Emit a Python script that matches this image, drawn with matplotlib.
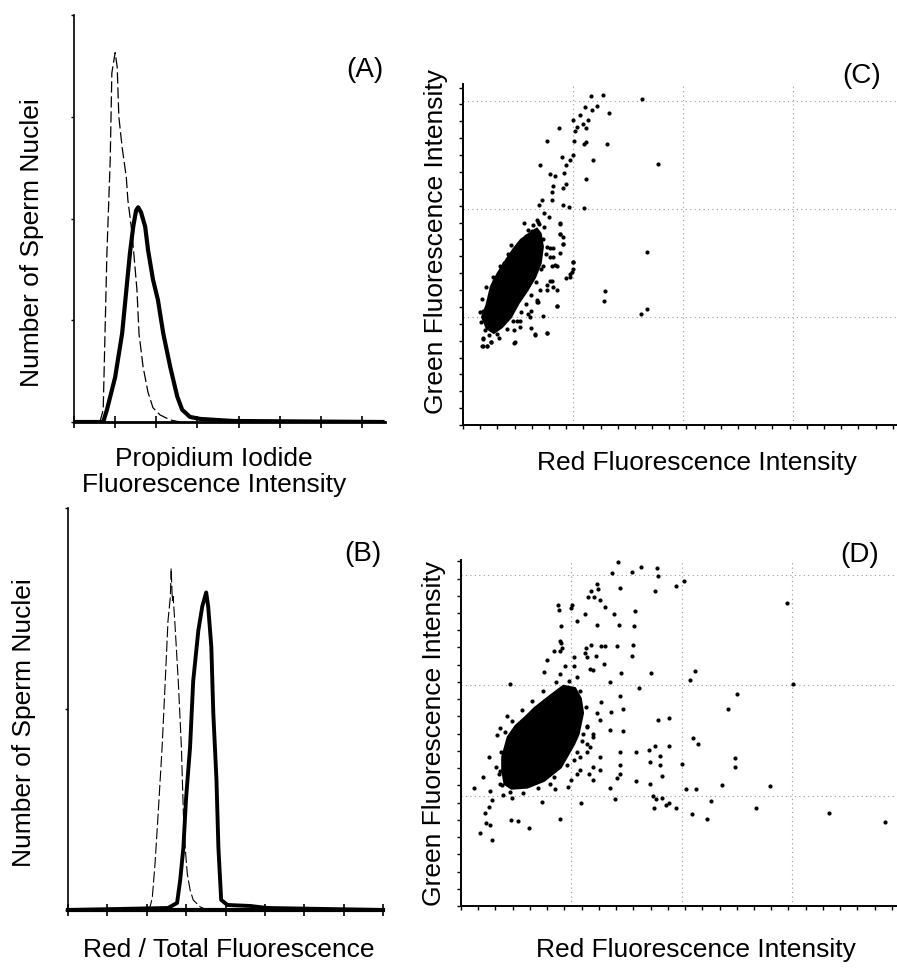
import matplotlib
matplotlib.use("Agg")
import matplotlib.pyplot as plt
import numpy as np

plt.rcParams['font.family'] = ['Liberation Sans', 'DejaVu Sans']

# ---------------- Panel A: PI fluorescence histograms ----------------
a_dash_x = [0.63, 0.71, 0.80, 0.88, 0.92, 1.00, 1.05, 1.09, 1.17, 1.27, 1.31, 1.41, 1.53, 1.58, 1.68, 1.80, 1.92, 2.09, 2.34, 2.58]
a_dash_y = [0.00, 0.12, 1.66, 2.57, 3.43, 3.63, 3.49, 3.00, 2.70, 2.41, 2.18, 1.86, 1.30, 0.87, 0.54, 0.29, 0.14, 0.07, 0.02, 0.00]
a_solid_x = [0.00, 0.71, 0.80, 1.00, 1.17, 1.29, 1.36, 1.44, 1.51, 1.56, 1.63, 1.73, 1.80, 1.92, 2.04, 2.17, 2.34, 2.51, 2.63, 2.82, 3.07, 3.87, 7.50]
a_solid_y = [0.00, 0.00, 0.12, 0.44, 0.87, 1.37, 1.66, 1.92, 2.08, 2.11, 2.06, 1.92, 1.69, 1.40, 1.20, 0.87, 0.54, 0.25, 0.12, 0.05, 0.03, 0.01, 0.00]
a_xticks = [0, 1, 2, 3, 4, 5, 6, 7]
a_yticks = [0, 1, 2, 3, 4]

# ---------------- Panel B: red / total fluorescence histograms ----------------
b_dash_x = [2.01, 2.09, 2.14, 2.21, 2.29, 2.39, 2.47, 2.54, 2.60, 2.62, 2.65, 2.67, 2.72, 2.80, 2.88, 2.93, 2.98, 3.03, 3.10, 3.18, 3.36, 3.54]
b_dash_y = [0.00, 0.02, 0.06, 0.23, 0.48, 0.81, 1.14, 1.44, 1.56, 1.70, 1.54, 1.56, 1.41, 1.14, 0.81, 0.48, 0.30, 0.18, 0.10, 0.05, 0.015, 0.00]
b_solid_x = [0.00, 2.54, 2.77, 2.85, 2.93, 3.00, 3.10, 3.18, 3.31, 3.41, 3.51, 3.56, 3.64, 3.69, 3.77, 3.82, 3.89, 4.05, 4.63, 5.06, 8.00]
b_solid_y = [0.00, 0.01, 0.035, 0.15, 0.31, 0.56, 0.81, 1.14, 1.39, 1.51, 1.58, 1.51, 1.31, 0.98, 0.65, 0.31, 0.05, 0.025, 0.02, 0.01, 0.00]
b_xticks = [0, 1, 2, 3, 4, 5, 6, 7, 8]
b_yticks = [0, 1, 2]

# ---------------- Panel C: green vs red scatter (decades) ----------------
c_core_x = [0.18, 0.22, 0.26, 0.32, 0.40, 0.46, 0.53, 0.61, 0.67, 0.70, 0.72, 0.70, 0.65, 0.58, 0.50, 0.43, 0.35, 0.28, 0.22]
c_core_y = [1.00, 1.11, 1.28, 1.40, 1.53, 1.62, 1.71, 1.77, 1.81, 1.77, 1.65, 1.50, 1.37, 1.25, 1.13, 1.00, 0.91, 0.86, 0.90]
c_pts_x = [1.27, 1.16, 1.63, 1.22, 1.33, 1.11, 1.17, 1.06, 1.00, 1.04, 1.09, 1.14, 1.12, 0.87, 1.02, 0.76, 1.01, 1.10,
           1.12, 1.31, 1.77, 1.18, 1.00, 0.97, 0.94, 0.90, 0.70, 0.92, 0.84, 0.79, 1.12, 0.82, 0.91, 0.94, 0.72, 0.81,
           0.81, 0.91, 0.96, 1.10, 0.69, 0.74, 0.67, 0.78, 0.88, 0.91, 0.88, 0.82, 0.85, 0.91, 1.00, 0.99, 0.97, 1.67,
           0.85, 1.29, 1.28, 1.62, 1.67, 0.73, 0.65, 0.76, 0.47, 0.17, 0.22, 0.18, 0.25, 0.59, 0.67, 0.76, 0.81, 0.65,
           0.73, 0.76, 0.79, 0.52, 0.49,
           0.55, 0.68, 0.88, 0.88, 0.91, 0.88, 0.79, 0.82, 1.00, 1.00, 0.97, 0.94, 0.84, 0.81, 0.79, 0.70, 0.85, 0.82,
           0.76, 0.67, 0.68, 0.85, 0.62, 0.61, 0.52, 0.46, 0.62, 0.65, 0.76, 0.46, 0.33, 0.25, 0.18, 0.18, 0.22, 0.20,
           0.18, 0.25, 0.28, 0.26, 0.37, 0.35, 0.46, 0.44, 0.59, 0.64,
           0.74, 0.73, 0.75, 0.71, 0.66, 0.62, 0.57, 0.53, 0.45, 0.40, 0.31, 0.24, 0.20, 0.16, 0.15, 0.17, 0.21, 0.27,
           0.34, 0.41, 0.49, 0.57, 0.63, 0.69]
c_pts_y = [3.06, 3.05, 3.02, 2.95, 2.89, 2.94, 2.92, 2.87, 2.82, 2.76, 2.79, 2.82, 2.75, 2.75, 2.72, 2.63, 2.63, 2.60,
           2.62, 2.60, 2.42, 2.45, 2.50, 2.45, 2.41, 2.48, 2.41, 2.33, 2.31, 2.32, 2.28, 2.21, 2.19, 2.23, 2.08, 2.08,
           2.16, 2.04, 2.02, 2.01, 2.04, 1.96, 1.90, 1.93, 1.86, 1.74, 1.77, 1.64, 1.47, 1.68, 1.51, 1.42, 1.37, 1.60,
           1.10, 1.24, 1.15, 1.03, 1.07, 1.01, 0.84, 0.85, 0.77, 0.73, 0.73, 0.81, 0.77, 1.03, 1.14, 1.25, 1.33, 1.50,
           1.47, 1.65, 1.56, 0.91, 0.96,
           1.87, 1.88, 1.87, 1.77, 1.68, 1.59, 1.64, 1.56, 1.51, 1.44, 1.40, 1.36, 1.48, 1.47, 1.33, 1.25, 1.25, 1.28,
           1.30, 1.16, 1.14, 1.10, 1.06, 1.00, 0.96, 0.88, 0.90, 0.83, 0.85, 0.76, 0.81, 0.77, 0.80, 0.73, 0.73, 1.00,
           1.06, 1.10, 1.33, 1.28, 1.50, 1.44, 1.62, 1.67, 1.81, 1.85,
           1.83, 1.72, 1.58, 1.44, 1.32, 1.20, 1.12, 1.05, 0.96, 0.89, 0.84, 0.83, 0.88, 0.95, 1.05, 1.17, 1.28, 1.37,
           1.47, 1.58, 1.66, 1.75, 1.80, 1.86]

# ---------------- Panel D: green vs red scatter (decades) ----------------
d_core_x = [0.38, 0.43, 0.50, 0.60, 0.67, 0.81, 0.93, 1.03, 1.08, 1.10, 1.06, 1.02, 0.90, 0.75, 0.60, 0.46, 0.40, 0.38]
d_core_y = [1.35, 1.53, 1.63, 1.72, 1.79, 1.90, 1.99, 1.97, 1.88, 1.75, 1.56, 1.47, 1.26, 1.14, 1.08, 1.07, 1.11, 1.23]
d_pts_x = [1.42, 1.37, 1.55, 1.63, 1.78, 1.79, 2.02, 1.95, 1.76, 1.44, 1.23, 1.24, 1.18, 1.15, 1.21, 1.26, 1.31, 2.96,
           0.88, 0.89, 1.01, 1.00, 1.39, 1.58, 1.12, 1.05, 0.91, 1.23, 1.43, 1.57, 0.90, 0.91, 0.90, 0.92, 1.13, 1.18,
           1.27, 1.31, 1.41, 1.56, 1.55, 1.22, 1.12, 0.84, 1.14, 0.78, 1.02, 1.17, 1.20, 1.30, 1.02, 0.94, 0.75, 0.90,
           1.05, 1.35, 1.45, 1.72, 2.08, 2.12, 1.61, 3.01, 2.50, 2.42, 1.44, 1.47, 1.36, 1.27, 1.23, 1.26, 1.35, 1.47,
           1.79, 1.89, 1.76, 1.89, 2.10, 2.15, 1.59, 1.70, 1.80, 1.80, 1.71, 2.00, 1.44, 1.44, 1.41, 1.44, 2.48, 2.48,
           1.26, 1.20, 1.16, 1.26, 1.20, 1.59, 1.71, 1.82, 2.04, 2.13, 2.37, 2.80, 1.35, 1.40, 1.74, 1.77, 1.82, 1.86,
           1.89, 1.75, 1.95, 2.09, 2.23, 2.27, 2.67, 3.34, 3.84, 1.09, 0.90, 0.62, 0.52, 0.45, 0.73, 0.44, 0.42, 0.35,
           0.33, 0.25, 0.20, 0.12, 0.26, 0.28, 0.25, 0.22, 0.23, 0.26, 0.17, 0.28, 0.46, 0.35, 0.34, 0.38, 0.32, 0.97,
           0.85, 0.81, 1.00, 1.05, 1.08, 1.14, 1.14, 1.20, 1.17, 1.20, 1.11, 1.14, 1.08, 1.02,
           0.36, 0.40, 0.46, 0.55, 0.64, 0.74, 0.86, 0.98, 1.08, 1.13, 1.14, 1.10, 1.05, 0.96, 0.84, 0.70, 0.56, 0.44,
           0.37, 0.35]
d_pts_y = [3.12, 3.02, 3.03, 3.07, 3.06, 2.99, 2.95, 2.90, 2.86, 2.88, 2.92, 2.87, 2.86, 2.80, 2.80, 2.77, 2.71, 2.75,
           2.73, 2.68, 2.73, 2.70, 2.65, 2.67, 2.65, 2.58, 2.54, 2.55, 2.55, 2.54, 2.40, 2.38, 2.31, 2.34, 2.34, 2.37,
           2.36, 2.36, 2.36, 2.37, 2.27, 2.27, 2.29, 2.31, 2.26, 2.23, 2.26, 2.15, 2.14, 2.19, 2.18, 2.18, 2.12, 2.10,
           2.08, 2.03, 2.11, 2.11, 2.05, 2.13, 1.98, 2.01, 1.92, 1.79, 1.90, 1.79, 1.76, 1.85, 1.75, 1.69, 1.60, 1.59,
           1.69, 1.70, 1.45, 1.45, 1.52, 1.47, 1.40, 1.41, 1.36, 1.28, 1.31, 1.29, 1.40, 1.28, 1.16, 1.20, 1.34, 1.26,
           1.35, 1.26, 1.20, 1.23, 1.14, 1.13, 1.11, 1.18, 1.06, 1.06, 1.10, 1.09, 1.07, 0.97, 1.00, 0.97, 0.98, 0.92,
           0.93, 0.89, 0.89, 0.83, 0.79, 0.95, 0.89, 0.84, 0.76, 0.93, 0.79, 0.71, 0.77, 0.78, 0.94, 2.01, 1.72, 1.61,
           1.55, 1.35, 1.17, 1.07, 1.04, 0.96, 0.90, 0.84, 0.75, 0.73, 0.66, 0.60, 0.98, 1.11, 1.20, 1.01, 1.26, 1.08,
           1.06, 1.11, 1.14, 1.20, 1.23, 1.40, 1.47, 1.53, 1.44, 1.56, 1.56, 1.63, 1.35, 1.32,
           1.40, 1.58, 1.68, 1.78, 1.86, 1.95, 2.03, 2.04, 1.95, 1.80, 1.62, 1.50, 1.40, 1.28, 1.17, 1.07, 1.02, 1.03,
           1.10, 1.22]

scat_grid = [1, 2, 3]
scat_tick_step = 40 / 256

W, H = 897, 973
fig = plt.figure(figsize=(W / 100, H / 100), dpi=100)
FS = 19


def fx(px):
    return px / W


def fy(py):
    return 1 - py / H


def add_axes(l, t, r, b):
    return fig.add_axes([fx(l), fy(b), fx(r) - fx(l), (b - t) / H])


# ----- A -----
axA = add_axes(74, 15, 385, 422)
axA.plot(a_solid_x, a_solid_y, color='black', lw=3.0, solid_joinstyle='round')
axA.plot(a_dash_x, a_dash_y, color='black', lw=0.9, dashes=(9, 3))
axA.set_xlim(0, 7.56)
axA.set_ylim(0, 4)
axA.set_xticks(a_xticks)
axA.set_yticks(a_yticks)
axA.tick_params(axis='x', direction='inout', length=9, width=1.2, labelbottom=False)
axA.tick_params(axis='y', direction='out', length=2.5, width=1, labelleft=False)
for s in ['top', 'right']:
    axA.spines[s].set_visible(False)
axA.spines['left'].set_linewidth(1.2)
axA.spines['bottom'].set_linewidth(2.0)

# ----- B -----
axB = add_axes(68, 508, 383, 910)
axB.plot(b_solid_x, b_solid_y, color='black', lw=2.8, solid_joinstyle='round')
axB.plot(b_dash_x, b_dash_y, color='black', lw=0.8, dashes=(10, 3))
axB.set_xlim(0, 8)
axB.set_ylim(0, 2)
axB.set_xticks(b_xticks)
axB.set_yticks(b_yticks)
axB.tick_params(axis='x', direction='inout', length=9, width=1.2, labelbottom=False)
axB.tick_params(axis='y', direction='out', length=2.5, width=1, labelleft=False)
for s in ['top', 'right']:
    axB.spines[s].set_visible(False)
axB.spines['left'].set_linewidth(1.2)
axB.spines['bottom'].set_linewidth(3.0)
axB.spines['bottom'].set_zorder(0.5)


def scatter_panel(ax, core_x, core_y, px, py, xmax, ymax):
    ax.set_xlim(0, xmax)
    ax.set_ylim(0, ymax)
    for g in scat_grid:
        ax.axvline(g, color='#9a9a9a', lw=0.8, ls=(0, (1, 3)), zorder=0)
        ax.axhline(g, color='#9a9a9a', lw=0.8, ls=(0, (1, 3)), zorder=0)
    ax.fill(core_x, core_y, color='black', lw=2.5, ec='black', zorder=2)
    ax.scatter(px, py, s=9, marker='o', color='black', linewidths=0, zorder=3)
    ax.set_xticks(np.arange(0, xmax + 1e-6, scat_tick_step))
    ax.set_yticks(np.arange(0, ymax + 1e-6, scat_tick_step))
    ax.tick_params(axis='both', direction='out', length=3, width=1, labelbottom=False, labelleft=False)
    for s in ['top', 'right']:
        ax.spines[s].set_visible(False)
    ax.spines['left'].set_linewidth(1.4)
    ax.spines['bottom'].set_linewidth(1.4)


axC = add_axes(463, 84, 897, 425)
scatter_panel(axC, c_core_x, c_core_y, c_pts_x, c_pts_y, 434 / 110, 341 / 108)

axD = add_axes(461, 560, 897, 906)
scatter_panel(axD, d_core_x, d_core_y, d_pts_x, d_pts_y, 436 / 110.3, 346 / 110.3)

# ----- texts -----
fig.text(fx(32), fy(243), 'Number of Sperm Nuclei', rotation=90, ha='center', va='center', fontsize=FS)
fig.text(fx(214), fy(472), 'Propidium Iodide\nFluorescence Intensity', ha='center', va='center',
         fontsize=FS, linespacing=1.15)
fig.text(fx(365), fy(70), '(A)', ha='center', va='center', fontsize=FS + 1)

fig.text(fx(24), fy(723), 'Number of Sperm Nuclei', rotation=90, ha='center', va='center', fontsize=FS)
fig.text(fx(229), fy(950), 'Red / Total Fluorescence', ha='center', va='center', fontsize=FS)
fig.text(fx(363), fy(554), '(B)', ha='center', va='center', fontsize=FS + 1)

fig.text(fx(436), fy(242), 'Green Fluorescence Intensity', rotation=90, ha='center', va='center', fontsize=FS)
fig.text(fx(697), fy(463), 'Red Fluorescence Intensity', ha='center', va='center', fontsize=FS)
fig.text(fx(862), fy(76), '(C)', ha='center', va='center', fontsize=FS + 1)

fig.text(fx(434), fy(733), 'Green Fluorescence Intensity', rotation=90, ha='center', va='center', fontsize=FS)
fig.text(fx(696), fy(950), 'Red Fluorescence Intensity', ha='center', va='center', fontsize=FS)
fig.text(fx(860), fy(555), '(D)', ha='center', va='center', fontsize=FS + 1)

fig.savefig('out.png', dpi=100)
